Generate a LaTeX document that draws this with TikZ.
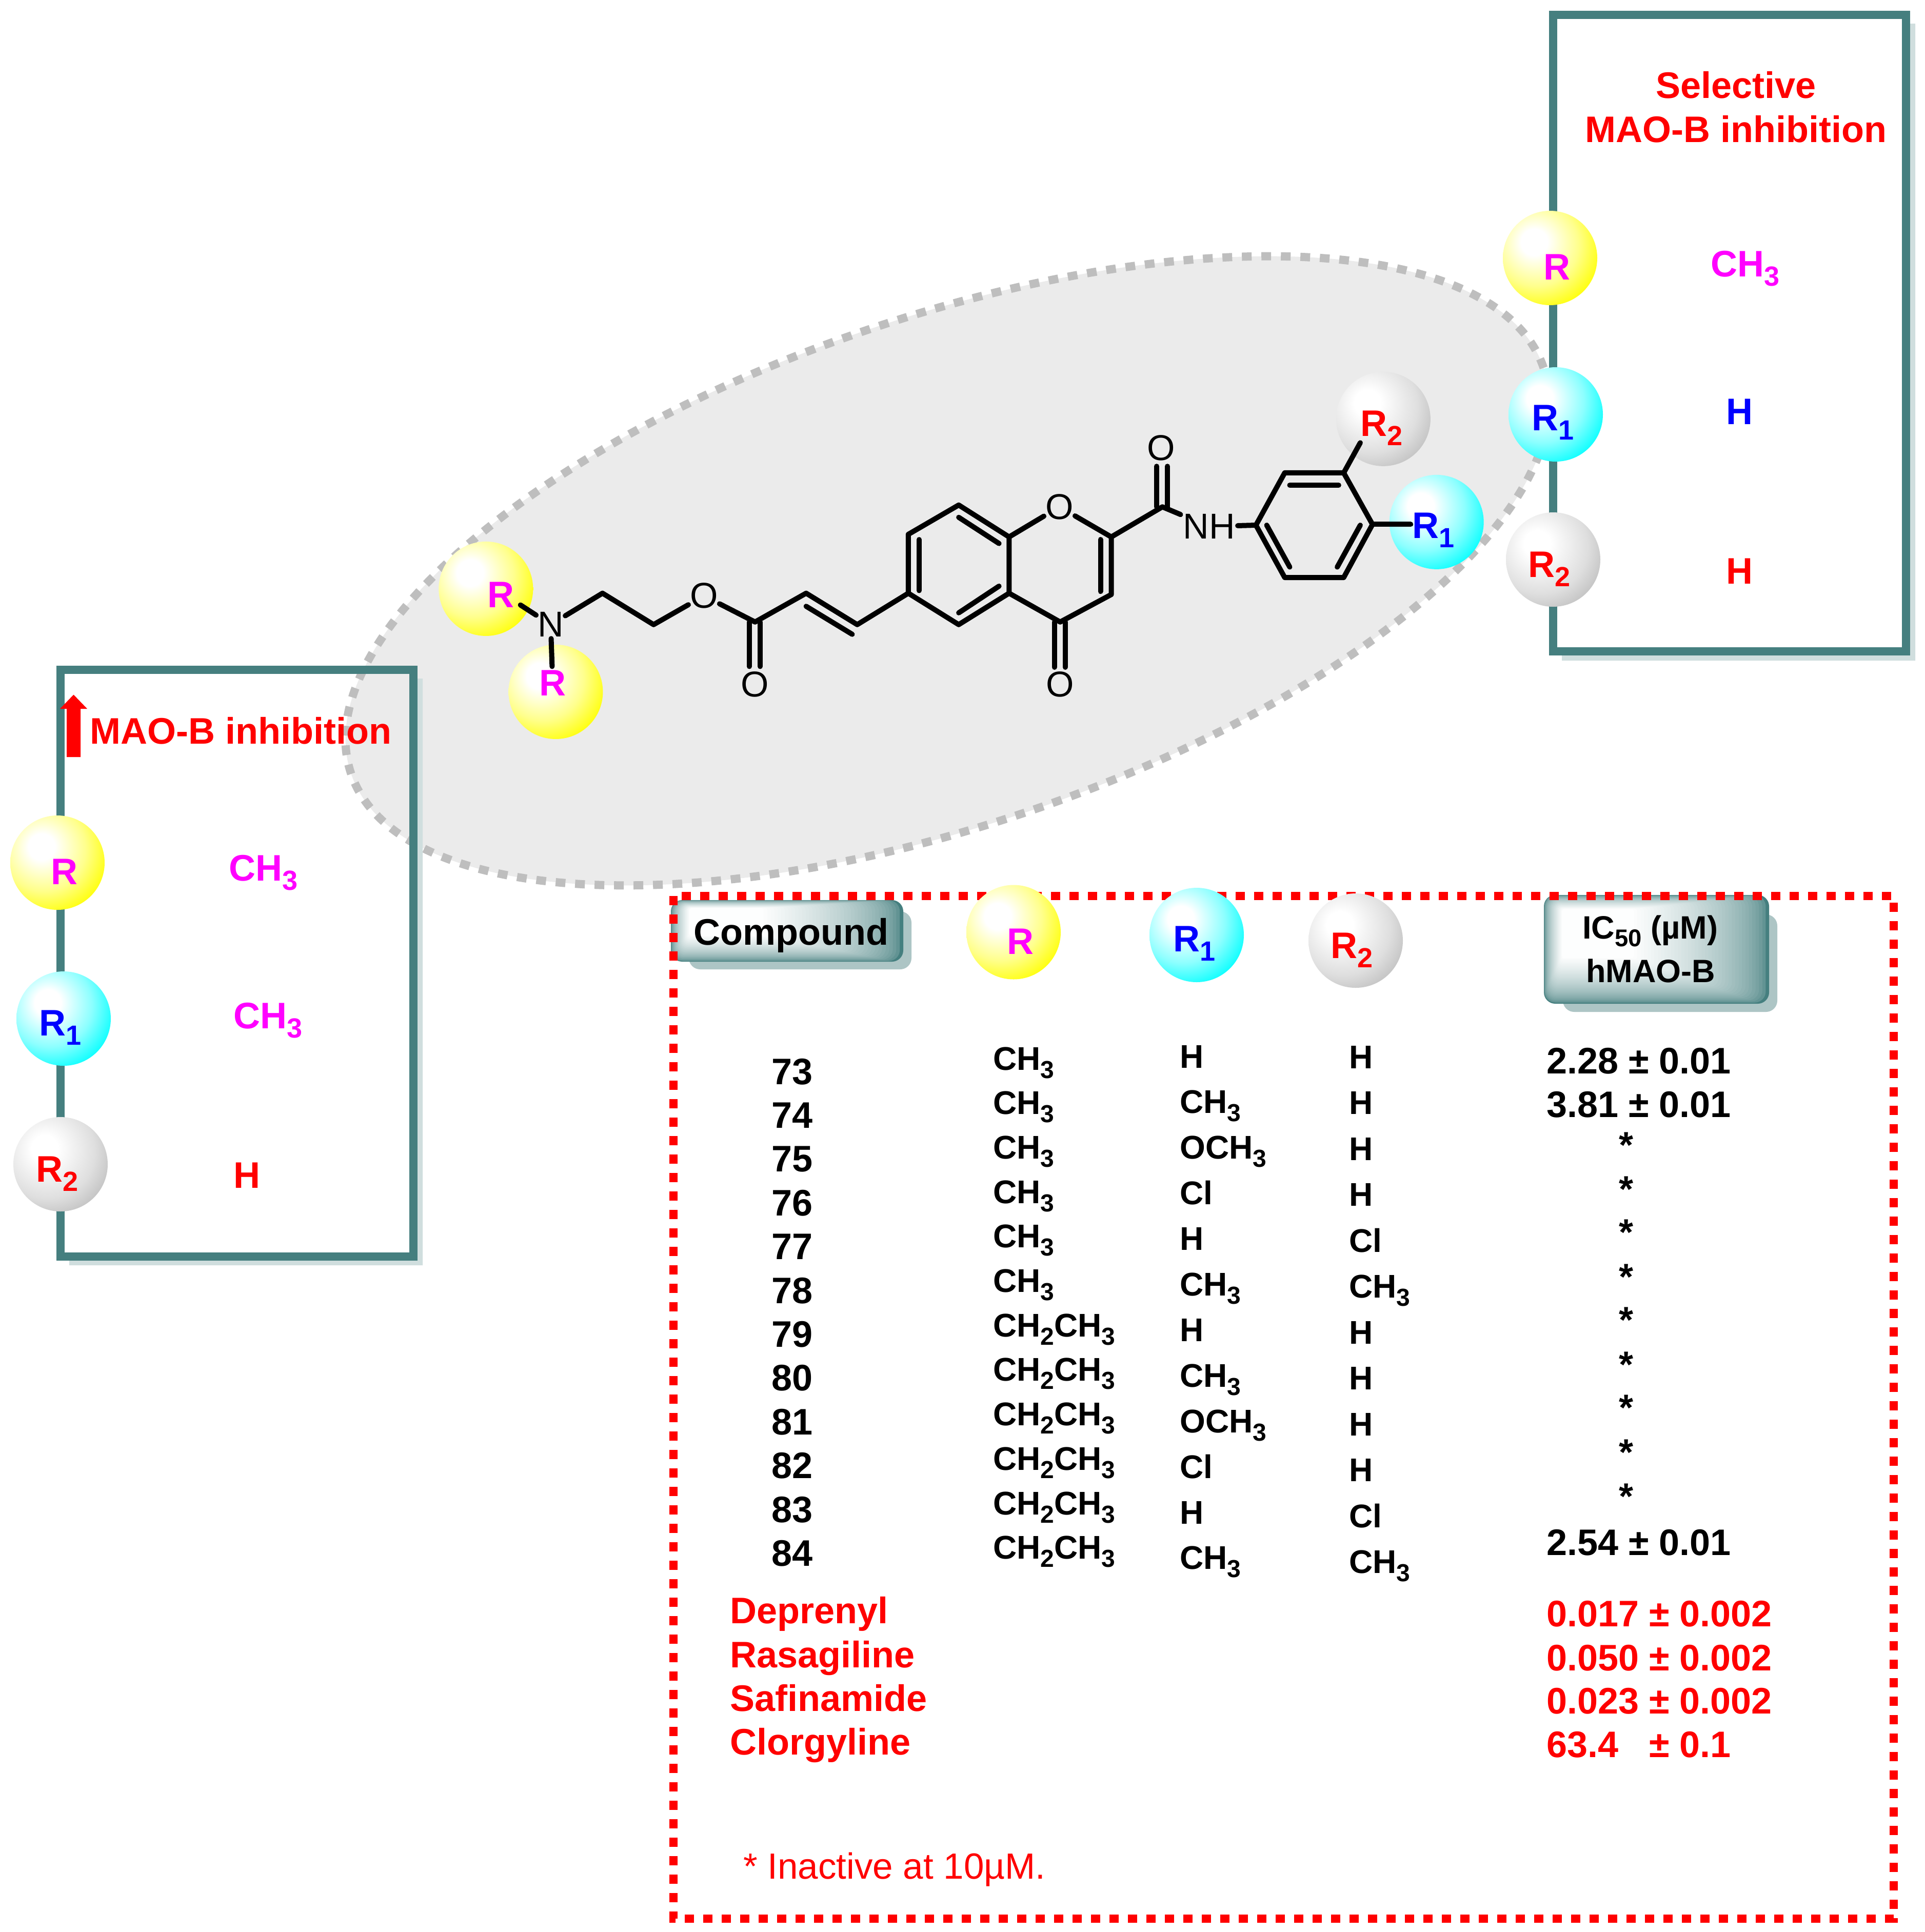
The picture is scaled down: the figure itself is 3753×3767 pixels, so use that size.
\documentclass[tikz,border=0pt]{standalone}
\usepackage{fontspec}
\usepackage{graphicx}
\setmainfont{Liberation Sans}
\definecolor{tealc}{HTML}{457F7F}
\definecolor{shadc}{HTML}{D0DEDE}
\definecolor{btnshad}{HTML}{ADC5C5}
\definecolor{greyfill}{HTML}{EBEBEB}
\definecolor{greydot}{HTML}{BEBEBE}
\definecolor{mag}{HTML}{FF00FF}
\pgfdeclareradialshading{yball}{\pgfpoint{-9bp}{9bp}}{color(0bp)=(white); color(7bp)=(white); color(22bp)=(yellow!45!white); color(35bp)=(yellow); color(100bp)=(yellow)}
\pgfdeclareradialshading{cball}{\pgfpoint{-9bp}{9bp}}{color(0bp)=(white); color(7bp)=(white); color(22bp)=(cyan!45!white); color(35bp)=(cyan); color(100bp)=(cyan)}
\pgfdeclareradialshading{gball}{\pgfpoint{-9bp}{9bp}}{color(0bp)=(white); color(7bp)=(white); color(25bp)=(greydot!50!white); color(36bp)=(greydot); color(100bp)=(greydot)}
\newcommand\sbs[1]{\raisebox{-.25em}{\scalebox{.75}{#1}}}
\newcommand\btn[4]{%
 \pgfmathsetmacro\bw{#3-#1}\pgfmathsetmacro\bh{#4-#2}%
 \foreach \t in {0,.025,...,1.01}{%
  \pgfmathsetmacro\p{99*min(1,\t)^.5}%
  \fill[white!\p!tealc,rounded corners={22pt*(1-.8*\t)}] ({#1+.08*\bw*\t},{#2+.13*\bh*\t}) rectangle ({#3-.6*\bw*\t},{#4-.42*\bh*\t});
 }}
\tikzset{
 bold/.style={font=\fontsize{72}{80}\selectfont\bfseries,inner sep=0pt},
 bl/.style={bold,anchor=base west},
 tbl/.style={font=\fontsize{64}{70}\selectfont\bfseries,inner sep=0pt,anchor=base west},
 btxt/.style={font=\fontsize{63}{70}\selectfont\bfseries,inner sep=0pt,anchor=base west},
 atom/.style={font=\fontsize{70}{80}\selectfont,inner sep=3pt},
 bond/.style={line width=10pt,line cap=round,line join=round},
 ybal/.style={circle,minimum size=184pt,inner sep=0pt,shading=yball},
 cbal/.style={circle,minimum size=184pt,inner sep=0pt,shading=cball},
 gbal/.style={circle,minimum size=184pt,inner sep=0pt,shading=gball},
 rlab/.style={bl,text=mag},
 ralab/.style={bl,text=blue},
 rblab/.style={bl,text=red},
}
\begin{document}
\begin{tikzpicture}[x=1pt,y=-1pt]
\useasboundingbox (0,0) rectangle (3753,3767);
\fill[white] (0,0) rectangle (3753,3767);
% grey ellipse
\draw[fill=greyfill,draw=greydot,line width=16pt,dash pattern=on 19pt off 19pt]
 (1847,1113) ellipse[x radius=1228pt,y radius=495pt,rotate=18.8];
% side boxes
\fill[shadc] (814,1323) -- (824,1323) -- (824,2467) -- (135,2467) -- (135,2458) -- (814,2458) -- cycle;
\draw[tealc,line width=16pt] (118,1306) rectangle (806,2450);
\fill[shadc] (3724,46) -- (3734,46) -- (3734,1288) -- (3045,1288) -- (3045,1278) -- (3724,1278) -- cycle;
\draw[tealc,line width=16pt] (3028,29) rectangle (3716,1270);
% buttons
\fill[btnshad,rounded corners=22pt] (1343,1777) rectangle (1777,1890);
\btn{1308}{1755}{1761}{1875}
\fill[btnshad,rounded corners=22pt] (3047,1783) rectangle (3465,1973);
\btn{3010}{1745}{3449}{1957}
% red dashed frame
\draw[red,line width=16pt,dash pattern=on 18pt off 18pt] (1313,1747) rectangle (3692,3741);
% left box content
\fill[red] (130,1476) -- (130,1382) -- (117,1382) -- (143.5,1354.5) -- (170,1382) -- (157,1382) -- (157,1476) -- cycle;
\node[bl,text=red] (t1) at (175,1450) {MAO-B inhibition};
\node[bl,text=mag] (t2) at (446,1717) {CH\sbs{3}};
\node[bl,text=mag] (t3) at (455,2005) {CH\sbs{3}};
\node[bl,text=red] (t4) at (455,2316) {H};
\node[ybal] (lb1) at (112,1682) {};
\node[cbal] (lb2) at (124,1986) {};
\node[gbal] (lb3) at (118,2270) {};
\node[rlab] (ll1) at (99,1724) {R};
\node[ralab] (ll2) at (76,2019) {R\sbs{1}};
\node[rblab] (ll3) at (70,2304) {R\sbs{2}};
% right box content
\node[bl,text=red] (t5) at (3228,191) {Selective};
\node[bl,text=red] (t6) at (3090,277) {MAO-B inhibition};
\node[bl,text=mag] (t7) at (3335,539) {CH\sbs{3}};
\node[bl,text=blue] (t8) at (3365,827) {H};
\node[bl,text=red] (t9) at (3365,1138) {H};
\node[ybal] (rb1) at (3022,503) {};
\node[cbal] (rb2) at (3033,808) {};
\node[gbal] (rb3) at (3028,1091) {};
\node[rlab] (rl1) at (3009,545) {R};
\node[ralab] (rl2) at (2986,839) {R\sbs{1}};
\node[rblab] (rl3) at (2979,1125) {R\sbs{2}};
% structure
\begin{scope}[shift={(800,700)},x=1.403pt,y=-0.5102pt]
 \node[ybal] (sb1) at (105,878) {};
 \node[ybal] (sb2) at (202,1272) {};
 \node[gbal] (sb3) at (1352,229) {};
 \node[cbal] (sb4) at (1426,623) {};
 \node[rlab] (sl1) at (107,950) {R};
 \node[rlab] (sl2) at (179,1287) {R};
 \node[rblab] (sl3) at (1320,295) {R\sbs{2}};
 \node[ralab] (sl4) at (1392,685) {R\sbs{1}};
 \node[atom] (N) at (195,1015) {N};
 \node[atom] (O1) at (408,905) {O};
 \node[atom] (O2) at (479,1243) {O};
 \node[atom] (O3) at (902,565) {O};
 \node[atom] (O4) at (903,1243) {O};
 \node[atom] (O5) at (1043,340) {O};
 \node[atom,inner sep=5pt] (NH) at (1110,640) {NH};
 \foreach \n/\a/\b in {a1/692/670,a2/762/558,a3/832/680,a4/832/895,a5/762/1015,a6/692/895,
   c1/974/680,c2/974/900,c3/903/1005,c4/1045/565,c5/621/1015,c6/550/895,c7/479/1005,c8/338/1015,c9/267/895,
   p1/1175/635,p2/1215/435,p3/1297/435,p4/1337/632,p5/1297/835,p6/1215/835,
   e1/153/940,e2/197/1175,e3/1320/320,e4/1390/632}
   \coordinate (\n) at (\a,\b);
 \draw[bond] (a1)--(a2)--(a3)--(a4)--(a5)--(a6)--cycle;
 \draw[bond] (a3)--(O3)--(c1)--(c2)--(c3)--(a4);
 \draw[bond] (c1)--(c4)--(NH)--(p1)--(p2)--(p3)--(p4)--(p5)--(p6)--(p1);
 \draw[bond] (p3)--(e3); \draw[bond] (p4)--(e4);
 \draw[bond] (a6)--(c5)--(c6)--(c7)--(O1)--(c8)--(c9)--(N)--(e1);
 \draw[bond] (N)--(e2);
 \draw[bond] (707,690)--(707,885);
 \draw[bond] (762,605)--(818,705);
 \draw[bond] (762,970)--(818,868);
 \draw[bond] (959,690)--(959,888);
 \draw[bond] (550,945)--(614,1052);
 \draw[bond] (1222,482)--(1290,482);
 \draw[bond] (1190,635)--(1222,795);
 \draw[bond] (1320,635)--(1288,795);
 \draw[bond] (1037,565)--(1037,410);
 \draw[bond] (1052,565)--(1052,410);
 \draw[bond] (895,1005)--(895,1178);
 \draw[bond] (910,1005)--(910,1178);
 \draw[bond] (471,1005)--(471,1175);
 \draw[bond] (486,1005)--(486,1175);
\end{scope}
% table header
\node[ybal] (hb1) at (1976,1817.5) {};
\node[cbal] (hb2) at (2333,1823) {};
\node[gbal] (hb3) at (2643,1834) {};
\node[rlab] (hl1) at (1963,1860) {R};
\node[ralab] (hl2) at (2287,1855) {R\sbs{1}};
\node[rblab] (hl3) at (2594,1868) {R\sbs{2}};
\node[bl] (h1) at (1352,1842) {Compound};
\node[btxt] (h2) at (3085,1830) {IC\sbs{50} (µM)};
\node[btxt] (h3) at (3092,1915) {hMAO-B};
% table body
\foreach \t [count=\i] in {73,74,75,76,77,78,79,80,81,82,83,84}{
 \pgfmathsetmacro\yy{2114+85.4*(\i-1)}
 \node[bl] (cp\i) at (1504,\yy) {\t};}
\foreach \t [count=\i] in {CH\sbs{3},CH\sbs{3},CH\sbs{3},CH\sbs{3},CH\sbs{3},CH\sbs{3},CH\sbs{2}CH\sbs{3},CH\sbs{2}CH\sbs{3},CH\sbs{2}CH\sbs{3},CH\sbs{2}CH\sbs{3},CH\sbs{2}CH\sbs{3},CH\sbs{2}CH\sbs{3}}{
 \pgfmathsetmacro\yy{2086+86.7*(\i-1)}
 \node[tbl] (ra\i) at (1936,\yy) {\t};}
\foreach \t [count=\i] in {H,CH\sbs{3},OCH\sbs{3},Cl,H,CH\sbs{3},H,CH\sbs{3},OCH\sbs{3},Cl,H,CH\sbs{3}}{
 \pgfmathsetmacro\yy{2082+88.9*(\i-1)}
 \node[tbl] (rm\i) at (2300,\yy) {\t};}
\foreach \t [count=\i] in {H,H,H,H,Cl,CH\sbs{3},H,H,H,H,Cl,CH\sbs{3}}{
 \pgfmathsetmacro\yy{2083+89.5*(\i-1)}
 \node[tbl] (rc\i) at (2630,\yy) {\t};}
\foreach \y/\t [count=\i] in {2093/2.28 ± 0.01,2178/3.81 ± 0.01,3032/2.54 ± 0.01}
 \node[bl] (ic\i) at (3015,\y) {\t};
\foreach \y [count=\i] in {927,963,998,1034,1069,1105,1140,1176,1212}{
 \pgfmathsetmacro\yy{\y*2.406+2}
 \node[bold] (st\i) at (3170,\yy) {*};}
\foreach \y/\t [count=\i] in {3165/Deprenyl,3251/Rasagiline,3336/Safinamide,3421/Clorgyline}
 \node[bl,text=red] (dn\i) at (1423,\y) {\t};
\foreach \y/\t [count=\i] in {3171/0.017 ± 0.002,3257/0.050 ± 0.002,3341/0.023 ± 0.002,3426/63.4\ \ \ ± 0.1}
 \node[bl,text=red] (dv\i) at (3015,\y) {\t};
\node[font=\fontsize{71}{80}\selectfont,inner sep=0pt,text=red,anchor=base west] (foot) at (1449,3663) {* Inactive at 10µM.};
\end{tikzpicture}
\end{document}
